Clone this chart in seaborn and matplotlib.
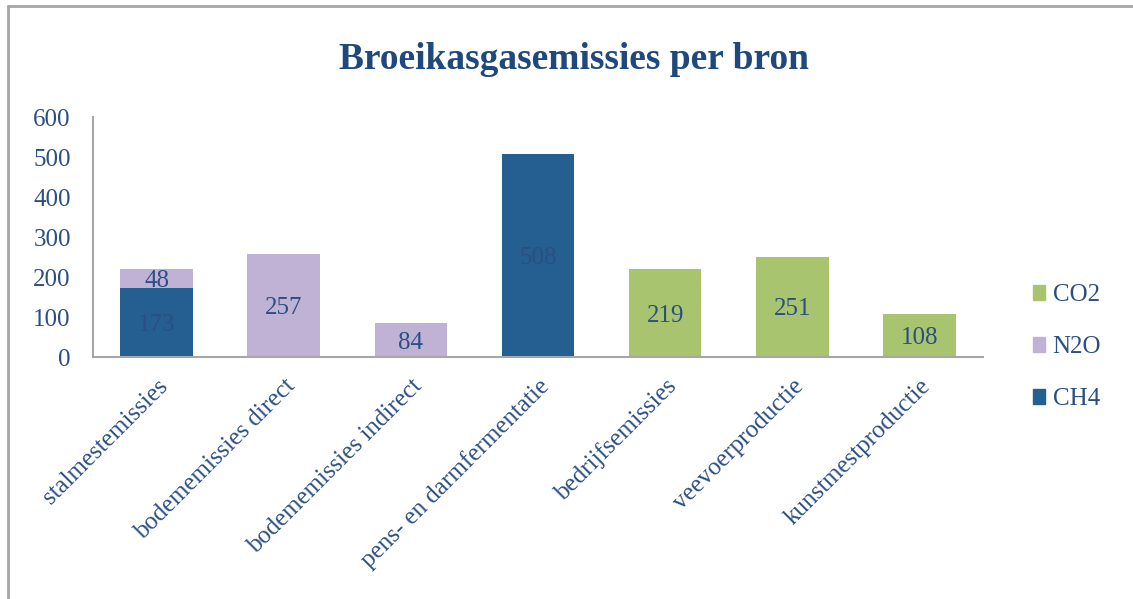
import pandas as pd
import seaborn as sns
import matplotlib.pyplot as plt
from matplotlib.lines import Line2D
from matplotlib.patches import Patch

# data
bronnen = ['stalmestemissies', 'bodememissies direct', 'bodememissies indirect',
           'pens- en darmfermentatie', 'bedrijfsemissies', 'veevoerproductie',
           'kunstmestproductie']
ch4 = [173, 0, 0, 508, 0, 0, 0]
n2o = [48, 257, 84, 0, 0, 0, 0]
co2 = [0, 0, 0, 0, 219, 251, 108]

kleur = {'CH4': '#255E91', 'N2O': '#BFB2D4', 'CO2': '#A9C46E'}
tekst = '#2B4F82'

sns.set_style('white')
plt.rcParams['font.family'] = ['Liberation Serif', 'DejaVu Serif']

df = pd.DataFrame({'bron': bronnen, 'CH4': ch4, 'N2O': n2o, 'CO2': co2})
df['top_CH4'] = df['CH4']
df['top_N2O'] = df['CH4'] + df['N2O']
df['top_CO2'] = df['top_N2O'] + df['CO2']

f = plt.figure(figsize=(11.33, 5.99), dpi=100)
ax = f.add_axes([93/1133, 242/599, 890/1133, 240/599])

# stacked: draw the cumulative totals from top gas down
for gas in ['CO2', 'N2O', 'CH4']:
    sns.barplot(x=df['bron'], y=df['top_' + gas], color=kleur[gas],
                width=0.57, saturation=1, ax=ax, linewidth=0)

# labels in the middle of each segment
for i, r in df.iterrows():
    onder = 0
    for gas in ['CH4', 'N2O', 'CO2']:
        v = r[gas]
        if v > 0:
            ax.text(i, onder + v / 2 - 6, str(v), ha='center', va='center',
                    fontsize=18, color=tekst)
        onder += v

ax.set_ylim(0, 600)
ax.set_yticks(range(0, 601, 100))
ax.set(xlabel=None, ylabel=None)
ax.tick_params(axis='both', length=0, labelsize=18, labelcolor=tekst)
ax.tick_params(axis='y', pad=16)
ax.tick_params(axis='x', pad=13)
for lab in ax.get_xticklabels():
    lab.set_rotation(45)
    lab.set_ha('right')
    lab.set_rotation_mode('anchor')
sns.despine(ax=ax)
for s in ['left', 'bottom']:
    ax.spines[s].set_color('#A6A6A6')
    ax.spines[s].set_linewidth(1.5)

f.suptitle('Broeikasgasemissies per bron', x=0.507, y=0.93, fontsize=27,
           fontweight='bold', color='#1F497D')

handles = [Patch(color=kleur[g]) for g in ['CO2', 'N2O', 'CH4']]
f.legend(handles, ['CO2', 'N2O', 'CH4'], loc='center left',
         bbox_to_anchor=(1010/1133, 0.42), frameon=False, fontsize=18,
         labelcolor=tekst, handlelength=0.5, handleheight=0.5,
         handletextpad=0.3, labelspacing=1.2)

# outer frame (top and left edge of the screenshot)
f.add_artist(Line2D([8/1133, 1], [1 - 6/599, 1 - 6/599], color='#A6A6A6', lw=2))
f.add_artist(Line2D([8/1133, 8/1133], [0, 1 - 6/599], color='#A6A6A6', lw=2))

f.savefig('out.png', dpi=100)
